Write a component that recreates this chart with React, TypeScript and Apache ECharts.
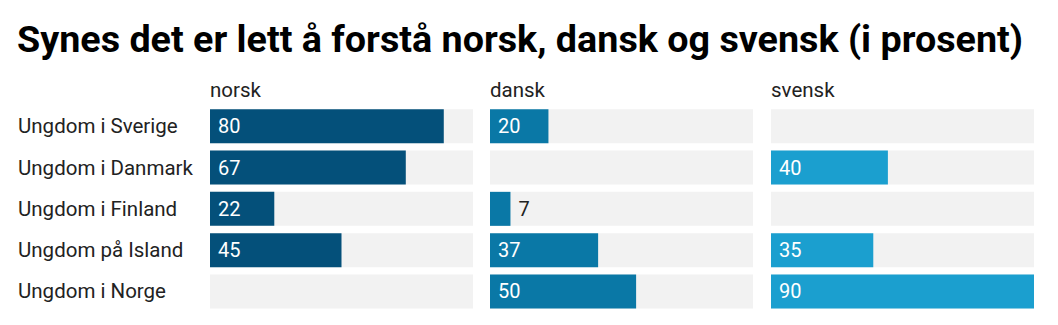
import React, { useEffect, useRef } from "react";
import * as echarts from "echarts";

const TITLE = "Synes det er lett å forstå norsk, dansk og svensk (i prosent)";
const CATEGORIES = [
  "Ungdom i Sverige",
  "Ungdom i Danmark",
  "Ungdom i Finland",
  "Ungdom på Island",
  "Ungdom i Norge",
];
const PANELS = ["norsk", "dansk", "svensk"];
const NORSK: (number | null)[] = [80, 67, 22, 45, null];
const DANSK: (number | null)[] = [20, null, 7, 37, 50];
const SVENSK: (number | null)[] = [null, 40, null, 35, 90];
const MAX = 90;

const COLORS = ["#04507a", "#0a78a6", "#1b9fcf"];
const FONT = "Roboto";

export default function App() {
  const ref = useRef<HTMLDivElement>(null);
  useEffect(() => {
    if (!ref.current) return;
    const chart = echarts.init(ref.current, null, { renderer: "svg" });
    const values = [NORSK, DANSK, SVENSK];
    const lefts = [210, 490, 771];
    const width = 263;
    const top = 105.6;
    const height = 206.5;

    const grids = lefts.map((l) => ({ left: l, top, width, height }));
    const xAxes = lefts.map((_, i) => ({
      type: "value",
      gridIndex: i,
      min: 0,
      max: MAX,
      show: false,
    }));
    const yAxes = lefts.map((_, i) => ({
      type: "category",
      gridIndex: i,
      data: CATEGORIES,
      inverse: true,
      axisLine: { show: false },
      axisTick: { show: false },
      splitLine: { show: false },
      axisLabel: {
        show: i === 0,
        align: "left",
        margin: 192,
        fontSize: 20.5,
        color: "#222",
        fontFamily: FONT,
      },
    }));

    const series: any[] = [];
    values.forEach((vals, i) => {
      series.push({
        type: "bar",
        xAxisIndex: i,
        yAxisIndex: i,
        data: CATEGORIES.map(() => MAX),
        barWidth: 34,
        barGap: "-100%",
        itemStyle: { color: "#f2f2f2" },
        silent: true,
        z: 1,
      });
      series.push({
        type: "bar",
        xAxisIndex: i,
        yAxisIndex: i,
        barWidth: 34,
        barGap: "-100%",
        z: 2,
        itemStyle: { color: COLORS[i] },
        data: vals.map((v) =>
          v == null
            ? null
            : {
                value: v,
                label:
                  v < 10
                    ? { position: "right", color: "#222", distance: 8 }
                    : { position: "insideLeft", color: "#fff", distance: 8 },
              }
        ),
        label: {
          show: true,
          fontSize: 20,
          fontFamily: FONT,
        },
      });
    });

    const titles: any[] = [
      {
        text: TITLE,
        left: 12,
        top: 15,
        textStyle: {
          fontSize: 37.7,
          fontWeight: "bold",
          color: "#000",
          fontFamily: FONT,
        },
      },
      ...PANELS.map((p, i) => ({
        text: p,
        left: lefts[i] - 5,
        top: 74,
        textStyle: {
          fontSize: 20.5,
          fontWeight: "normal",
          color: "#222",
          fontFamily: FONT,
        },
      })),
    ];

    chart.setOption({
      animation: false,
      backgroundColor: "#fff",
      title: titles,
      grid: grids,
      xAxis: xAxes,
      yAxis: yAxes,
      series,
    });
    return () => chart.dispose();
  }, []);
  return (
    <div
      ref={ref}
      style={{ position: "absolute", left: 0, top: 0, width: 1058, height: 325 }}
    />
  );
}
